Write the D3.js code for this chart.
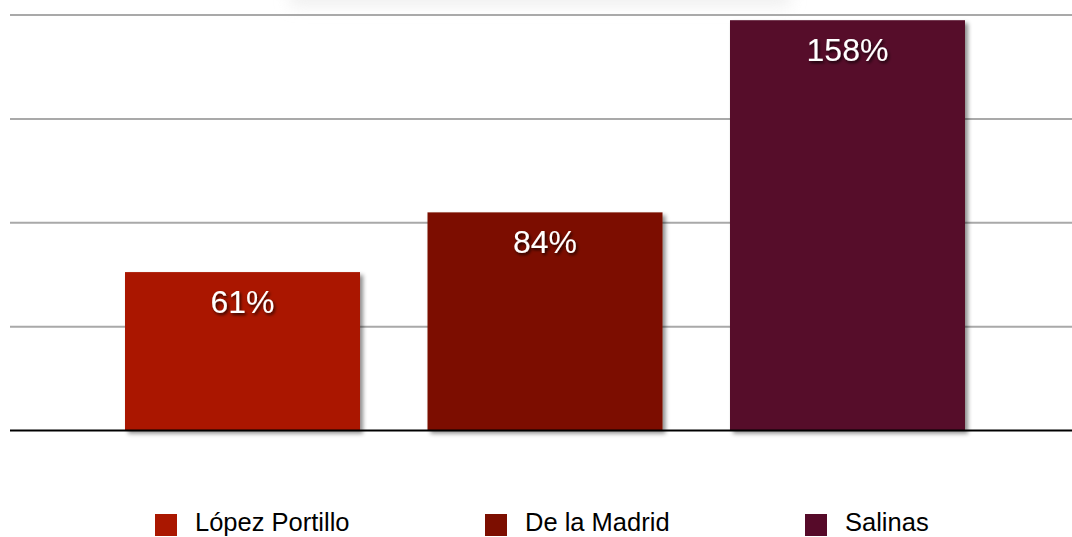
<!DOCTYPE html>
<html>
<head>
<meta charset="utf-8">
<script src="https://cdn.jsdelivr.net/npm/d3@7"></script>
<style>
  html, body { margin: 0; padding: 0; background: #fff; }
  svg { display: block; }
</style>
</head>
<body>
<svg id="chart" width="1072" height="537"></svg>
<script>
// Percent growth by presidential term
const categories = ["López Portillo", "De la Madrid", "Salinas"];
const values = [61, 84, 158];
const colors = ["#aa1700", "#7c0e00", "#560a29"];
const gridTicks = [40, 80, 120, 160];

const svg = d3.select("#chart");
const W = 1072;

const x = d3.scaleBand()
  .domain(categories)
  .range([10, 1080])
  .paddingInner(0.2231)
  .paddingOuter(0.3802);

const y = d3.scaleLinear().domain([0, 160]).range([430.5, 15]);

const defs = svg.append("defs");

const barShadow = defs.append("filter").attr("id", "barShadow")
  .attr("x", "-10%").attr("y", "-10%").attr("width", "130%").attr("height", "130%");
barShadow.append("feDropShadow")
  .attr("dx", 3).attr("dy", 3).attr("stdDeviation", 2.2)
  .attr("flood-color", "#000").attr("flood-opacity", 0.45);

const textShadow = defs.append("filter").attr("id", "textShadow")
  .attr("x", "-20%").attr("y", "-30%").attr("width", "150%").attr("height", "170%");
textShadow.append("feDropShadow")
  .attr("dx", 1.5).attr("dy", 2).attr("stdDeviation", 1.5)
  .attr("flood-color", "#000").attr("flood-opacity", 0.75);

const haze = defs.append("filter").attr("id", "haze")
  .attr("x", "-20%").attr("y", "-200%").attr("width", "140%").attr("height", "500%");
haze.append("feGaussianBlur").attr("stdDeviation", 8);

// faint soft shape along the top edge
svg.append("rect")
  .attr("x", 290).attr("y", -14).attr("width", 500).attr("height", 20)
  .attr("fill", "#e4e4e4").attr("opacity", 0.6)
  .attr("filter", "url(#haze)");

// horizontal gridlines
svg.append("g")
  .selectAll("line")
  .data(gridTicks)
  .join("line")
  .attr("x1", 10).attr("x2", W)
  .attr("y1", d => y(d)).attr("y2", d => y(d))
  .attr("stroke", "#a9a9a9")
  .attr("stroke-width", 2);

// bars
svg.append("g")
  .selectAll("rect")
  .data(values)
  .join("rect")
  .attr("x", (d, i) => x(categories[i]))
  .attr("y", d => y(d))
  .attr("width", x.bandwidth())
  .attr("height", d => y(0) - y(d))
  .attr("fill", (d, i) => colors[i])
  .attr("filter", "url(#barShadow)");

// baseline
svg.append("line")
  .attr("x1", 10).attr("x2", W)
  .attr("y1", y(0)).attr("y2", y(0))
  .attr("stroke", "#000")
  .attr("stroke-width", 2);

// value labels
svg.append("g")
  .selectAll("text")
  .data(values)
  .join("text")
  .attr("x", (d, i) => x(categories[i]) + x.bandwidth() / 2)
  .attr("y", d => y(d) + 41)
  .attr("text-anchor", "middle")
  .attr("font-family", "'Liberation Sans', Arial, Helvetica, sans-serif")
  .attr("font-size", 32)
  .attr("fill", "#fff")
  .attr("filter", "url(#textShadow)")
  .text(d => d + "%");

// legend
const legendX = [155, 485, 805];
const legend = svg.append("g")
  .selectAll("g")
  .data(categories)
  .join("g")
  .attr("transform", (d, i) => `translate(${legendX[i]},514)`);

legend.append("rect")
  .attr("width", 22).attr("height", 22)
  .attr("fill", (d, i) => colors[i]);

legend.append("text")
  .attr("x", 40).attr("y", 17)
  .attr("font-family", "'Liberation Sans', Arial, Helvetica, sans-serif")
  .attr("font-size", 25.5)
  .attr("fill", "#000")
  .text(d => d);
</script>
</body>
</html>
